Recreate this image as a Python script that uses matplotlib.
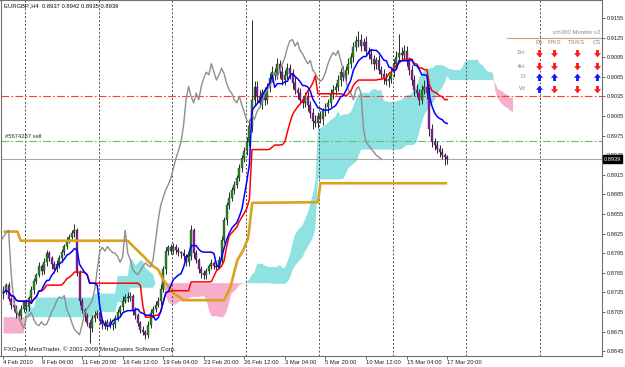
import numpy as np
import pandas as pd
import matplotlib
matplotlib.use('Agg')
import matplotlib.pyplot as plt
from matplotlib.path import Path

plt.rcParams['font.family'] = ['Liberation Sans', 'DejaVu Sans']

# ---------------- data (prices in pips, 0.0001) ----------------
close_pips = [
 8738, 8746, 8725, 8716, 8712, 8703, 8698, 8710, 8720, 8712,
 8726, 8738, 8752, 8762, 8775, 8768, 8782, 8795, 8788, 8778,
 8770, 8778, 8788, 8796, 8806, 8814, 8820, 8826, 8830, 8765,
 8722, 8708, 8698, 8688, 8680, 8695, 8700, 8704, 8693, 8686,
 8684, 8690, 8685, 8686, 8695, 8705, 8712, 8722, 8728, 8726,
 8730, 8708, 8700, 8688, 8678, 8674, 8670, 8685, 8704, 8710,
 8716, 8722, 8740, 8770, 8798, 8804, 8798, 8805, 8800, 8796,
 8795, 8790, 8781, 8790, 8830, 8795, 8785, 8770, 8765, 8762,
 8768, 8775, 8780, 8776, 8774, 8785, 8815, 8845, 8868, 8880,
 8892, 8900, 8910, 8925, 8940, 8952, 8965, 8990, 9030, 9050,
 9035, 9025, 9040, 9030, 9050, 9063, 9072, 9068, 9085, 9072,
 9060, 9068, 9078, 9070, 9055, 9045, 9040, 9030, 9025, 9035,
 9022, 9010, 8998, 8995, 9005, 9000, 9012, 9018, 9025, 9038,
 9045, 9050, 9060, 9072, 9065, 9075, 9085, 9095, 9110, 9120,
 9122, 9112, 9118, 9105, 9100, 9092, 9085, 9090, 9075, 9070,
 9062, 9058, 9062, 9072, 9085, 9095, 9102, 9098, 9105, 9090,
 9075, 9060, 9045, 9040, 9030, 9045, 9050, 9040, 8985, 8965,
 8960, 8955, 8950, 8945, 8942, 8939]
up_pips = [
 6, 4, 5, 3, 7, 4, 5, 6, 3, 5,
 4, 6, 5, 3, 7, 4, 6, 5, 4, 3,
 5, 6, 4, 5, 3, 6, 4, 5, 10, 3,
 4, 5, 3, 6, 4, 5, 7, 4, 5, 3,
 6, 4, 5, 3, 6, 5, 4, 7, 5, 8,
 6, 3, 5, 4, 3, 5, 4, 6, 5, 4,
 5, 6, 7, 5, 6, 4, 5, 6, 4, 5,
 3, 6, 4, 5, 8, 4, 5, 3, 6, 4,
 5, 4, 6, 3, 5, 6, 7, 5, 6, 8,
 5, 6, 4, 7, 5, 6, 8, 10, 122, 9,
 8, 10, 7, 9, 6, 8, 10, 7, 8, 6,
 9, 7, 8, 6, 7, 9, 5, 8, 6, 7,
 8, 6, 7, 9, 6, 8, 5, 7, 6, 8,
 7, 5, 8, 6, 9, 7, 8, 6, 9, 8,
 13, 8, 7, 9, 6, 8, 7, 5, 8, 6,
 7, 9, 6, 8, 7, 9, 28, 8, 9, 7,
 6, 8, 7, 9, 6, 8, 10, 7, 9, 8,
 6, 7, 5, 6, 4, 3]
dn_pips = [
 5, 6, 4, 7, 5, 8, 6, 4, 5, 6,
 5, 4, 6, 5, 4, 7, 5, 6, 5, 7,
 6, 4, 5, 6, 4, 5, 3, 4, 6, 5,
 6, 5, 7, 4, 22, 6, 5, 4, 6, 7,
 5, 6, 4, 7, 5, 4, 6, 5, 4, 6,
 5, 7, 6, 5, 6, 4, 6, 5, 4, 6,
 5, 4, 6, 5, 7, 6, 5, 4, 6, 5,
 7, 5, 6, 5, 6, 8, 5, 6, 8, 7,
 6, 5, 4, 6, 5, 4, 6, 5, 7, 6,
 5, 6, 5, 4, 6, 5, 7, 6, 9, 8,
 10, 7, 9, 8, 7, 9, 6, 8, 7, 9,
 8, 7, 6, 9, 8, 7, 9, 6, 8, 7,
 9, 8, 13, 7, 8, 6, 9, 7, 8, 6,
 7, 8, 6, 9, 7, 8, 6, 7, 8, 6,
 9, 7, 8, 6, 8, 7, 9, 8, 6, 7,
 8, 6, 9, 7, 8, 6, 7, 8, 6, 9,
 8, 7, 9, 6, 8, 7, 6, 9, 10, 8,
 7, 6, 8, 6, 12, 7]
first_open_pips = 8730

# leading cloud values (from history before the first visible bar)
span_a_early_val = [8672, 8712, 8727, 8733, 8760, 8785]
span_a_early_len = [9, 4, 23, 9, 5, 2]
span_b_early_val = [8697, 8705, 8720, 8742]
span_b_early_len = [36, 9, 5, 10]

# higher timeframe line (gold)
gold_bar = [0, 5.5, 6.8, 49, 51, 55, 59, 61, 63, 67, 70, 71, 87, 89.5, 92.2, 94.6, 96.5, 98.1, 124, 125, 175]
gold_val = [8828, 8828, 8814, 8814, 8806, 8791, 8775, 8770, 8754, 8734, 8726, 8723, 8723,
            8743, 8784, 8800, 8818, 8872, 8873, 8902, 8902]

x_label_bars = [0, 15, 31, 47, 63, 79, 95, 111, 127, 143, 159, 175]
x_labels = ['4 Feb 2010', '9 Feb 04:00', '11 Feb 20:00', '16 Feb 12:00', '19 Feb 04:00',
            '23 Feb 20:00', '26 Feb 12:00', '3 Mar 04:00', '5 Mar 20:00', '10 Mar 12:00',
            '15 Mar 04:00', '17 Mar 20:00']
week_sep_bars = [8.67, 37.6, 66.6, 95.6, 124.5, 153.5, 182.5, 211.5]
y_tick_vals = [0.9155 - 0.003 * k for k in range(18)]

order_red = 0.9035
order_sell = 0.8966
bid = 0.8939
monitor_title = 'ich360 Monitor v2'
monitor_rows = ['1H:', '4H:', 'D:', 'W:']
monitor_cols = ['PA', 'P/KS', 'TS/KS', 'CS']
monitor_sig = [[-1, -1, -1, -1], [-1, -1, -1, -1], [1, 1, 1, 1], [1, -1, -1, -1]]

# ---------------- derived series ----------------
c = np.array(close_pips, float) / 1e4
o = np.concatenate([[first_open_pips / 1e4], c[:-1]])
h = np.maximum(o, c) + np.array(up_pips) / 1e4
l = np.minimum(o, c) - np.array(dn_pips) / 1e4
n = len(c)
idx = np.arange(n)
H = pd.Series(h)
L = pd.Series(l)
tenkan = ((H.rolling(9, min_periods=1).max() + L.rolling(9, min_periods=1).min()) / 2).values
kijun = ((H.rolling(26, min_periods=1).max() + L.rolling(26, min_periods=1).min()) / 2).values
b52 = ((H.rolling(52, min_periods=1).max() + L.rolling(52, min_periods=1).min()) / 2).values
shift = 26
m = n + shift
span_a = np.empty(m)
span_b = np.empty(m)
span_a[shift:] = (tenkan + kijun) / 2
span_b[shift:] = b52
ea = np.repeat(np.array(span_a_early_val, float) / 1e4, span_a_early_len)
eb = np.repeat(np.array(span_b_early_val, float) / 1e4, span_b_early_len)
span_a[:len(ea)] = ea
span_b[:len(eb)] = eb
d = np.arange(m)

# ---------------- figure ----------------
W, Hh = 625, 367
fig = plt.figure(figsize=(W / 100, Hh / 100), dpi=100)
fig.patch.set_facecolor('white')
ax_w, ax_h = 602, 356
ax = fig.add_axes([0.5 / W, (Hh - ax_h) / Hh, (ax_w - 0.5) / W, ax_h / Hh])
px_per_bar = 2.5375
x0 = -3 / px_per_bar
ax.set_xlim(x0, x0 + ax_w / px_per_bar)
ppx = 0.0001531
ylo, yhi = 0.9155 - (ax_h - 18) * ppx, 0.9155 + 18 * ppx
ax.set_ylim(ylo, yhi)

cyan = '#8FE2E2'
pink = '#F6AECB'
ax.fill_between(d, span_a, span_b, where=span_a >= span_b, interpolate=True, color=cyan, lw=0, zorder=1)
ax.fill_between(d, span_a, span_b, where=span_a < span_b, interpolate=True, color=pink, lw=0, zorder=1)

for xb in week_sep_bars:
    ax.axvline(xb, color='#505050', lw=0.7, ls=(0, (2, 2)), zorder=2)

ax.axhline(order_red, color='#FF3B3B', lw=0.8, ls=(0, (7, 2, 1.5, 2)), zorder=2)
ax.axhline(order_sell, color='#5CC85C', lw=0.8, ls=(0, (7, 2, 1.5, 2)), zorder=2)
ax.axhline(bid, color='#A8A8A8', lw=0.8, zorder=2)

# candles
ax.vlines(idx, l, h, color='#2A2A2A', lw=0.7, zorder=3)
bull = c >= o
body_lo = np.minimum(o, c)
body_h = np.maximum(np.abs(c - o), 0.00005)
ax.bar(idx, body_h, bottom=body_lo, width=0.78,
       color=np.where(bull, '#238C23', '#9618AE'), edgecolor='#1E1E1E', lw=0.25, zorder=3)

ax.plot(gold_bar, np.array(gold_val) / 1e4, color='#D9A21F', lw=1.9, zorder=4, solid_capstyle='butt')
ax.plot(idx - shift, c, color='#8E8E8E', lw=1.0, zorder=4)
ax.plot(idx, kijun, color='#FF0000', lw=1.1, zorder=5)
ax.plot(idx, tenkan, color='#0000FF', lw=1.1, zorder=5)

# axes styling
for s in ax.spines.values():
    s.set_color('#707070')
    s.set_linewidth(0.8)
ax.set_facecolor('white')
ax.yaxis.tick_right()
ax.set_yticks(y_tick_vals)
ax.set_yticklabels([f'{v:.4f}' for v in y_tick_vals])
ax.set_xticks(x_label_bars)
ax.set_xticklabels(x_labels, ha='left')
ax.tick_params(axis='x', length=2, width=0.6, color='#505050', labelsize=4.2,
               labelcolor='#202020', pad=1)
ax.tick_params(axis='y', length=2, width=0.6, color='#505050', labelsize=4.1,
               labelcolor='#202020', pad=1.2)

# bid price box
ax.text(1.0035, (bid - ylo) / (yhi - ylo), f'{bid:.4f}',
        transform=ax.transAxes, fontsize=4.1, color='white', va='center', ha='left',
        bbox=dict(boxstyle='square,pad=0.2', fc='black', ec='black'), clip_on=False, zorder=10)

def fx(px):
    return px / ax_w

def fy(py):
    return 1 - py / ax_h

ax.text(fx(4), fy(6), 'EURGBP.,H4  0.8937 0.8942 0.8935 0.8939', transform=ax.transAxes,
        fontsize=4.2, color='#101010', va='center', ha='left')
ax.text(fx(4), fy(349), 'FXOpen MetaTrader, © 2001-2009 MetaQuotes Software Corp.',
        transform=ax.transAxes, fontsize=4.4, color='#202020', va='center', ha='left')
ax.text(fx(5), fy(137), '#5674287 sell', transform=ax.transAxes,
        fontsize=4.2, color='#303030', va='center', ha='left')

# monitor panel
ax.text(fx(600), fy(32), monitor_title, transform=ax.transAxes, fontsize=4.3,
        color='#8A8A8A', va='center', ha='right')
ax.plot([fx(507), fx(602)], [fy(38), fy(38)], transform=ax.transAxes, color='#C8A07A', lw=0.8)
col_x = [539, 554, 577, 597]
row_y = [53, 66, 77, 89]
for cx, name in zip(col_x, monitor_cols):
    ax.text(fx(cx), fy(43), name, transform=ax.transAxes, fontsize=4.3, color='#8A8A8A',
            va='center', ha='center')
down_path = Path([(-0.22, 0.55), (0.22, 0.55), (0.22, 0.05), (0.55, 0.05), (0.0, -0.6),
                  (-0.55, 0.05), (-0.22, 0.05), (-0.22, 0.55)], closed=True)
up_path = Path([(vx, -vy) for vx, vy in down_path.vertices], closed=True)
for ry, rname, sig in zip(row_y, monitor_rows, monitor_sig):
    ax.text(fx(526), fy(ry), rname, transform=ax.transAxes, fontsize=4.3, color='#8A8A8A',
            va='center', ha='right')
    for cx, s in zip(col_x, sig):
        ax.plot([fx(cx)], [fy(ry)], transform=ax.transAxes, marker=up_path if s > 0 else down_path,
                ms=5.5, color='#1515FF' if s > 0 else '#FF1A1A', mec='none', zorder=10)

fig.savefig('out.png', dpi=100, facecolor='white')
